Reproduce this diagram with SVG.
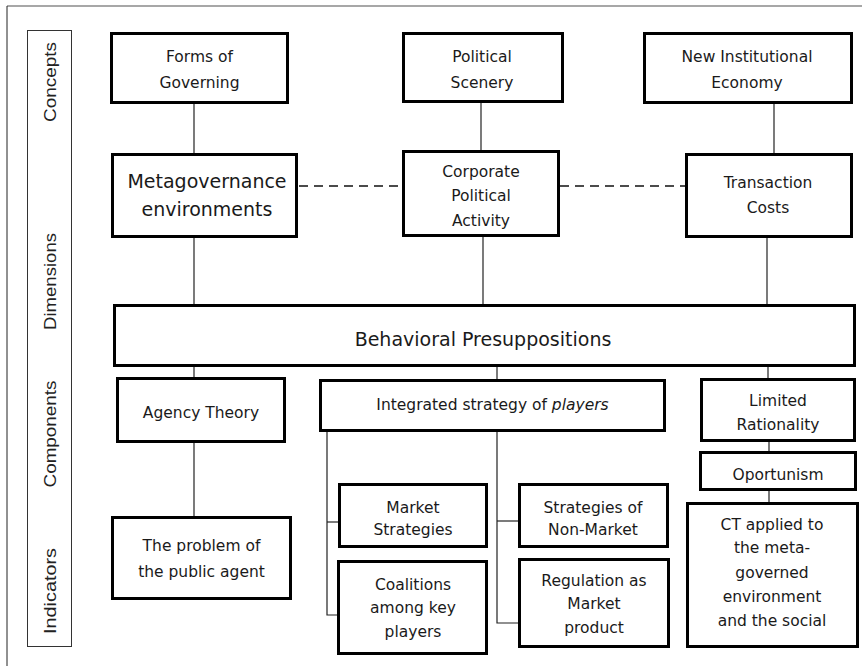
<svg xmlns="http://www.w3.org/2000/svg" width="862" height="666" viewBox="0 0 862 666">
<style>
.box{fill:#fff;stroke:#000;stroke-width:3}
.t{font-family:"DejaVu Sans",Verdana,sans-serif;font-size:15.5px;fill:#1a1a1a;text-anchor:middle}
.big{font-size:19px}
.lab{font-family:"Liberation Sans",Arial,sans-serif;font-size:17px;fill:#222;text-anchor:middle}
.c{stroke:#222;stroke-width:1.2;fill:none}
.d{stroke:#111;stroke-width:1.4;fill:none;stroke-dasharray:9 6}
</style>
<rect width="862" height="666" fill="#fff"/>
<line x1="7" y1="6" x2="862" y2="6" stroke="#8a8a8a" stroke-width="1.5"/>
<line x1="7" y1="6" x2="7" y2="666" stroke="#222" stroke-width="1"/>
<g id="labels">
<rect x="27.5" y="30.5" width="44" height="616" fill="#fff" stroke="#333" stroke-width="1"/>
<text class="lab" transform="translate(56,82) rotate(-90)" textLength="80" lengthAdjust="spacingAndGlyphs">Concepts</text>
<text class="lab" transform="translate(56,281.5) rotate(-90)" textLength="97" lengthAdjust="spacingAndGlyphs">Dimensions</text>
<text class="lab" transform="translate(56,434) rotate(-90)" textLength="107" lengthAdjust="spacingAndGlyphs">Components</text>
<text class="lab" transform="translate(56,591) rotate(-90)" textLength="86" lengthAdjust="spacingAndGlyphs">Indicators</text>
</g>
<g id="connectors">
<line class="c" x1="194" y1="104" x2="194" y2="153"/>
<line class="c" x1="194" y1="238" x2="194" y2="304"/>
<line class="c" x1="481" y1="103" x2="481" y2="150"/>
<line class="c" x1="483" y1="237" x2="483" y2="304"/>
<line class="c" x1="774" y1="104" x2="774" y2="153"/>
<line class="c" x1="767" y1="238" x2="767" y2="304"/>
<line class="d" x1="299" y1="186" x2="402" y2="186"/>
<line class="d" x1="560" y1="186" x2="685" y2="186"/>
<line class="c" x1="194" y1="367" x2="194" y2="377"/>
<line class="c" x1="497" y1="367" x2="497" y2="380"/>
<line class="c" x1="768" y1="367" x2="768" y2="378"/>
<line class="c" x1="194" y1="443" x2="194" y2="516"/>
<polyline class="c" points="327,432 327,615 338,615"/>
<line class="c" x1="327" y1="522" x2="338" y2="522"/>
<polyline class="c" points="497,432 497,623 518,623"/>
<line class="c" x1="497" y1="521" x2="518" y2="521"/>
<line class="c" x1="769" y1="442" x2="769" y2="451"/>
<line class="c" x1="769" y1="491" x2="769" y2="502"/>
</g>
<g id="forms"><rect class="box" x="111.5" y="33.5" width="176" height="69"/><text class="t" x="199.5" y="62">Forms of</text><text class="t" x="199.5" y="88">Governing</text></g>
<g id="political"><rect class="box" x="403.5" y="33.5" width="159" height="68"/><text class="t" x="482" y="62">Political</text><text class="t" x="482" y="88">Scenery</text></g>
<g id="nie"><rect class="box" x="644.5" y="33.5" width="207" height="69"/><text class="t" x="747" y="62">New  Institutional</text><text class="t" x="747" y="88">Economy</text></g>
<g id="meta"><rect class="box" x="112.5" y="154.5" width="184" height="82"/><text class="t big" x="207" y="188">Metagovernance</text><text class="t big" x="207" y="216">environments</text></g>
<g id="cpa"><rect class="box" x="403.5" y="151.5" width="155" height="84"/><text class="t" x="481" y="177">Corporate</text><text class="t" x="481" y="201">Political</text><text class="t" x="481" y="226">Activity</text></g>
<g id="tc"><rect class="box" x="686.5" y="154.5" width="165" height="82"/><text class="t" x="768" y="188">Transaction</text><text class="t" x="768" y="213">Costs</text></g>
<g id="behavioral"><rect class="box" x="114.5" y="305.5" width="740" height="60"/><text class="t big" x="483" y="346">Behavioral Presuppositions</text></g>
<g id="agency"><rect class="box" x="117.5" y="378.5" width="167" height="63"/><text class="t" x="201" y="418">Agency Theory</text></g>
<g id="integrated"><rect class="box" x="320.5" y="380.5" width="344" height="50"/><text class="t" x="492.5" y="410">Integrated strategy of <tspan font-style="italic">players</tspan></text></g>
<g id="limited"><rect class="box" x="701.5" y="379.5" width="153" height="61"/><text class="t" x="778" y="406">Limited</text><text class="t" x="778" y="430">Rationality</text></g>
<g id="oportunism"><rect class="box" x="700.5" y="452.5" width="155" height="37"/><text class="t" x="778" y="480">Oportunism</text></g>
<g id="problem"><rect class="box" x="112.5" y="517.5" width="178" height="81"/><text class="t" x="201.5" y="551">The problem  of</text><text class="t" x="201.5" y="577">the  public  agent</text></g>
<g id="market"><rect class="box" x="339.5" y="484.5" width="147" height="62"/><text class="t" x="413" y="513">Market</text><text class="t" x="413" y="535">Strategies</text></g>
<g id="coalitions"><rect class="box" x="338.5" y="561.5" width="148" height="92"/><text class="t" x="413" y="590">Coalitions</text><text class="t" x="413" y="613">among key</text><text class="t" x="413" y="637">players</text></g>
<g id="nonmarket"><rect class="box" x="519.5" y="484.5" width="148" height="62"/><text class="t" x="593" y="513">Strategies  of</text><text class="t" x="593" y="535">Non-Market</text></g>
<g id="regulation"><rect class="box" x="519.5" y="559.5" width="149" height="87"/><text class="t" x="594" y="586">Regulation  as</text><text class="t" x="594" y="609">Market</text><text class="t" x="594" y="633">product</text></g>
<g id="ct"><rect class="box" x="687.5" y="503.5" width="170" height="143"/><text class="t" x="772" y="530">CT applied  to</text><text class="t" x="772" y="553">the  meta-</text><text class="t" x="772" y="578">governed</text><text class="t" x="772" y="602">environment</text><text class="t" x="772" y="626">and the social</text></g>
</svg>
